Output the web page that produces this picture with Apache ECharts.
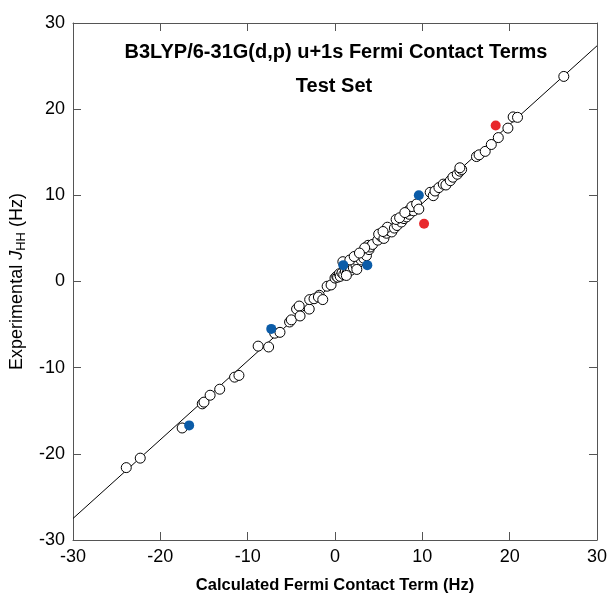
<!DOCTYPE html>
<html>
<head>
<meta charset="utf-8">
<script src="https://cdn.jsdelivr.net/npm/echarts@6/dist/echarts.min.js"></script>
<style>html,body{margin:0;padding:0;background:#fff}#c{width:610px;height:599px}</style>
</head>
<body>
<div id="c"></div>
<script>
// Calculated (x) vs experimental (y) coupling constants, Hz
const openPoints = [
  [-23.9,-21.6],[-22.3,-20.5],[-17.5,-17.0],
  [-15.2,-14.2],[-15.0,-14.0],[-14.3,-13.2],[-13.2,-12.5],[-11.5,-11.1],[-11.0,-10.9],
  [-8.8,-7.5],[-7.6,-7.6],[-6.9,-6.0],[-6.3,-5.9],[-5.2,-4.7],[-5.0,-4.45],
  [-4.4,-3.2],[-4.1,-2.85],[-4.0,-4.0],[-2.95,-3.2],[-2.9,-2.1],[-2.4,-2.0],
  [-1.8,-1.6],[-1.9,-1.8],[-1.4,-2.1],[-0.9,-0.55],[-0.45,-0.4],
  [0.0,0.4],[0.2,0.6],[0.3,0.5],[0.5,0.9],[0.6,0.6],[0.8,1.0],[1.0,0.8],[1.1,1.6],
  [1.2,1.2],[1.4,1.0],[1.5,1.5],[1.6,1.8],[1.8,1.3],[2.0,2.0],[2.1,1.6],[2.3,2.4],
  [2.4,1.9],[2.6,2.7],[2.7,2.2],[2.9,2.9],[3.0,2.5],[3.2,3.2],[3.3,2.7],[3.5,3.5],
  [0.9,2.3],[1.7,2.5],[2.2,2.9],[3.6,3.0],[3.9,3.7],[3.8,4.2],[4.0,4.0],[4.3,4.3],
  [1.3,0.7],[2.5,1.4],[3.4,3.9],[2.8,3.3],
  [4.9,4.8],[5.3,5.2],[5.0,5.5],[5.6,5.0],[5.9,5.6],[6.2,5.9],[6.5,5.75],[6.0,6.3],
  [5.5,5.8],[6.8,6.2],[7.1,6.5],[7.6,6.9],[7.0,7.2],[7.9,7.3],[8.2,7.5],[8.5,7.8],
  [8.4,8.2],[9.0,8.2],[8.8,8.7],[9.35,9.0],[9.6,8.4],[7.4,7.4],[8.0,8.0],
  [10.9,10.35],[11.25,9.96],[11.45,10.5],[11.9,10.9],[12.4,11.3],[12.7,11.2],
  [13.2,11.7],[13.5,12.1],[14.0,12.45],[14.3,12.8],[14.5,13.0],[14.3,13.2],
  [16.2,14.5],[16.5,14.7],[17.2,15.1],[17.9,15.9],[18.7,16.7],[19.8,17.8],
  [20.4,19.1],[20.9,19.05],[26.2,23.8]
];
const bluePoints = [[-16.7,-16.7],[-7.3,-5.5],[0.95,1.9],[3.7,1.9],[9.6,10.0]];
const redPoints = [[18.4,18.1],[10.2,6.7]];
const fitLine = [[-30,-27.5],[30,27.35]];
const tickMin = -30, tickMax = 30, tickStep = 10;

const chart = echarts.init(document.getElementById('c'), null, {renderer:'canvas'});
const font = '"Liberation Sans", Arial, sans-serif';
const axisLineStyle = {color:'#555', width:1};
function mkAxis(pos, showLabel, extra){
  return Object.assign({
    type:'value', min:tickMin, max:tickMax, interval:tickStep, position:pos,
    axisLine:{show:true, onZero:false, lineStyle:axisLineStyle},
    axisTick:{show:true, inside:true, length:8, lineStyle:axisLineStyle},
    splitLine:{show:false},
    axisLabel:{show:showLabel, fontFamily:font, fontSize:18, color:'#000', margin:8}
  }, extra||{});
}
chart.setOption({
  animation:false,
  backgroundColor:'#fff',
  title:[
    {text:'B3LYP/6-31G(d,p) u+1s Fermi Contact Terms', left:331, top:37, textAlign:'center',
     textStyle:{fontFamily:font, fontSize:20, fontWeight:'bold', color:'#000'}},
    {text:'Test Set', left:329, top:71, textAlign:'center',
     textStyle:{fontFamily:font, fontSize:20, fontWeight:'bold', color:'#000'}}
  ],
  grid:{left:73, top:23, width:524, height:522},
  xAxis:[
    mkAxis('bottom', true, {name:'Calculated Fermi Contact Term (Hz)', nameLocation:'middle', nameGap:37,
      nameTextStyle:{fontFamily:font, fontSize:16.5, fontWeight:'bold', color:'#000'}}),
    mkAxis('top', false)
  ],
  yAxis:[
    mkAxis('left', true, {name:'{n|Experimental }{j|J}{s|HH}{n| (Hz)}', nameLocation:'middle', nameGap:42,
      nameTextStyle:{fontFamily:font, fontSize:18, color:'#000',
        rich:{n:{fontFamily:font, fontSize:18, color:'#000'},
              j:{fontFamily:font, fontSize:18, fontStyle:'italic', color:'#000'},
              s:{fontFamily:font, fontSize:13, color:'#000', verticalAlign:'bottom', padding:[9,0,0,0]}}}}),
    mkAxis('right', false)
  ],
  series:[
    {type:'line', data:fitLine, symbol:'none', lineStyle:{color:'#000', width:1}, z:1, clip:true, silent:true},
    {type:'scatter', data:openPoints, symbol:'circle', symbolSize:10,
     itemStyle:{color:'#fff', borderColor:'#000', borderWidth:1, opacity:1}, z:2},
    {type:'scatter', data:bluePoints, symbol:'circle', symbolSize:10,
     itemStyle:{color:'#0b5ca8', opacity:1}, z:3},
    {type:'scatter', data:redPoints, symbol:'circle', symbolSize:10,
     itemStyle:{color:'#e8282c', opacity:1}, z:3}
  ]
});
</script>
</body>
</html>
